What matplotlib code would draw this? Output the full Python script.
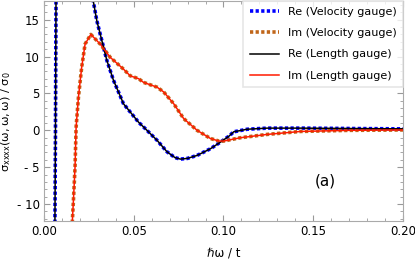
import matplotlib.pyplot as plt
from matplotlib.ticker import MultipleLocator

# Re part (velocity and length gauge coincide)
re_x = [0.0050, 0.0061, 0.0064, 0.0067, 0.0075, 0.012, 0.020, 0.025, 0.0274,
        0.0294, 0.0322, 0.0350, 0.0387, 0.0443, 0.0480, 0.0527, 0.0555, 0.0630,
        0.0685, 0.0730, 0.0760, 0.0800, 0.0853, 0.0927, 0.0983, 0.1030, 0.1057,
        0.1132, 0.1244, 0.1430, 0.1700, 0.2000]
re_y = [-60, -12.3, 0, 17.6, 45, 80, 55, 25, 17.6,
        14.9, 12.2, 9.5, 6.8, 3.6, 2.5, 1.1, 0.45, -1.35,
        -2.9, -3.7, -3.9, -3.8, -3.4, -2.5, -1.6, -0.8, -0.2,
        0.15, 0.3, 0.3, 0.25, 0.2]

# Im part
im_x = [0.0150, 0.0158, 0.0164, 0.0173, 0.0179, 0.0192, 0.0210, 0.0229, 0.0261,
        0.0313, 0.0369, 0.0443, 0.0480, 0.0527, 0.0555, 0.0630, 0.0667, 0.0723,
        0.0778, 0.0853, 0.0927, 0.0974, 0.1002, 0.1095, 0.1244, 0.1430, 0.1700,
        0.2000]
im_y = [-40, -12.3, -9.5, -5.0, 0.45, 4.5, 8.55, 11.7, 13.0,
        11.7, 9.9, 8.3, 7.4, 7.0, 6.5, 5.85, 5.2, 3.6,
        1.6, 0.0, -1.1, -1.45, -1.45, -1.0, -0.55, -0.15, 0.0,
        0.05]

yticks = [-10, -5, 0, 5, 10, 15]
ytick_labels = ['- 10', '- 5', '0', '5', '10', '15']
xticks = [0.0, 0.05, 0.10, 0.15, 0.20]
xtick_labels = ['0.00', '0.05', '0.10', '0.15', '0.20']

fig = plt.figure(figsize=(4.15, 2.61), dpi=100)
ax = fig.add_axes([0.106, 0.153, 0.865, 0.845])

ax.plot(re_x, re_y, color='#0000ff', lw=2.6, linestyle=(0, (0.9, 0.65)),
        label='Re (Velocity gauge)')
ax.plot(im_x, im_y, color='#c0661a', lw=2.6, linestyle=(0, (0.9, 0.65)),
        label='Im (Velocity gauge)')
ax.plot(re_x, re_y, color='black', lw=1.1, label='Re (Length gauge)')
ax.plot(im_x, im_y, color='#ff1a00', lw=1.1, label='Im (Length gauge)')

ax.set_xlim(0, 0.2)
ax.set_ylim(-12.3, 17.6)
ax.set_xticks(xticks)
ax.set_xticklabels(xtick_labels)
ax.set_yticks(yticks)
ax.set_yticklabels(ytick_labels)
ax.xaxis.set_minor_locator(MultipleLocator(0.01))
ax.yaxis.set_minor_locator(MultipleLocator(1))
ax.tick_params(which='both', direction='in', top=True, right=True,
               color='#999999', labelsize=8.5, pad=3)
ax.tick_params(which='major', length=4)
ax.tick_params(which='minor', length=2)
for s in ax.spines.values():
    s.set_color('#aaaaaa')

ax.set_xlabel('ℏω / t', fontsize=8.5, labelpad=6)
ax.set_ylabel(r'$\mathregular{\sigma_{xxxx}(\omega,\omega,\omega)\ /\ \sigma_0}$',
              fontsize=8.2)
ax.yaxis.set_label_coords(-0.085, 0.45)

ax.text(0.157, -6.9, '(a)', fontsize=11, ha='center', va='center')

leg = ax.legend(loc='upper right', fontsize=8, handlelength=2.6,
                borderaxespad=0.0, frameon=True, fancybox=False,
                labelspacing=1.0, borderpad=0.6)
leg.get_frame().set_edgecolor('#e0e0e0')
leg.get_frame().set_linewidth(1.2)

fig.savefig('out.png', dpi=100)
